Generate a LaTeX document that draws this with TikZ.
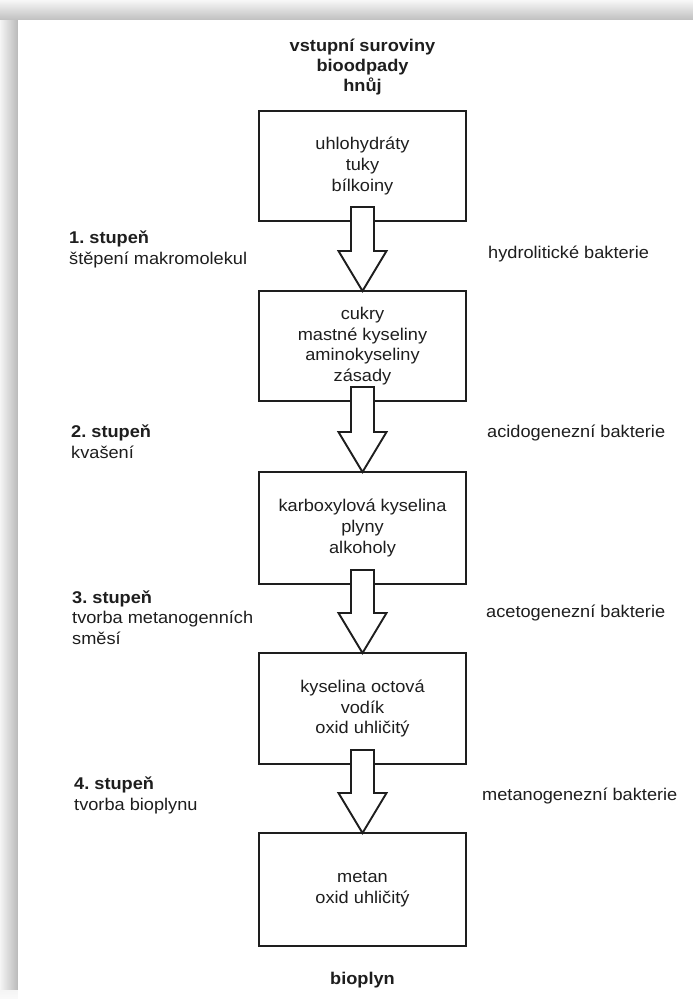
\documentclass[tikz,border=0pt]{standalone}
\usepackage{fontspec}
\setmainfont{Liberation Sans}[FakeStretch=1.07]
\usetikzlibrary{calc}
\frenchspacing
\definecolor{ink}{HTML}{1E1E1E}
\tikzset{
  txt/.style={font=\fontsize{17}{20.6}\selectfont, text=ink, inner sep=0pt, align=center},
  stagebox/.style={txt, draw=ink, line width=1.9pt, minimum width=207, minimum height=110, outer sep=0pt},
  leftlbl/.style={txt, anchor=west, align=left},
  rightlbl/.style={txt, anchor=west},
  fatarrow/.style={draw=ink, fill=white, line width=1.9pt, line join=miter},
}
\begin{document}
\begin{tikzpicture}[x=1pt,y=-1pt]
\useasboundingbox (0,0) rectangle (693,999);
% frame shadow
\fill[white] (0,0) rectangle (693,999);
\shade[top color=gray!6, bottom color=gray!50] (0,0) rectangle (693,20);
\shade[left color=gray!8, right color=gray!55] (0,20) rectangle (18,990);
\shade[top color=gray!8, bottom color=gray!4] (0,990) rectangle (18,999);
\fill[white] (18,20) rectangle (693,999);

% title
\node[txt, font=\fontsize{17}{20.2}\selectfont\bfseries] (top) at (362.5,67) {vstupní suroviny\\bioodpady\\hnůj};

% boxes
\node[stagebox, minimum height=110] (b1) at (362.5,166) {uhlohydráty\\tuky\\bílkoiny};
\node[stagebox, minimum height=110] (b2) at (362.5,346) {cukry\\mastné kyseliny\\aminokyseliny\\zásady};
\node[stagebox, minimum height=112] (b3) at (362.5,528) {karboxylová kyselina\\plyny\\alkoholy};
\node[stagebox, minimum height=111] (b4) at (362.5,708.5) {kyselina octová\\vodík\\oxid uhličitý};
\node[stagebox, minimum height=113] (b5) at (362.5,889.5) {metan\\oxid uhličitý};

\node[txt, font=\fontsize{17}{20.6}\selectfont\bfseries] (out) at (362.5,980) {bioplyn};

% arrows
\foreach \a/\b in {b1/b2,b2/b3,b3/b4,b4/b5}{
  \draw[fatarrow] ($(\a.south)+(-11.5,-14)$) -- ($(\a.south)+(11.5,-14)$)
     -- ($(\b.north)+(11.5,-40)$) -- ($(\b.north)+(24,-40)$) -- (\b.north)
     -- ($(\b.north)+(-24,-40)$) -- ($(\b.north)+(-11.5,-40)$) -- cycle;
}

% left labels
\node[leftlbl] (s1) at (69,249.5) {\textbf{1. stupeň}\\štěpení makromolekul};
\node[leftlbl] (s2) at (71,441.5) {\textbf{2. stupeň}\\kvašení};
\node[leftlbl] (s3) at (72,617.5) {\textbf{3. stupeň}\\tvorba metanogenních\\směsí};
\node[leftlbl] (s4) at (74,795.5) {\textbf{4. stupeň}\\tvorba bioplynu};

% right labels
\node[rightlbl] (r1) at (488,254) {hydrolitické bakterie};
\node[rightlbl] (r2) at (487,433) {acidogenezní bakterie};
\node[rightlbl] (r3) at (486,613) {acetogenezní bakterie};
\node[rightlbl] (r4) at (482,796) {metanogenezní bakterie};
\end{tikzpicture}
\end{document}
